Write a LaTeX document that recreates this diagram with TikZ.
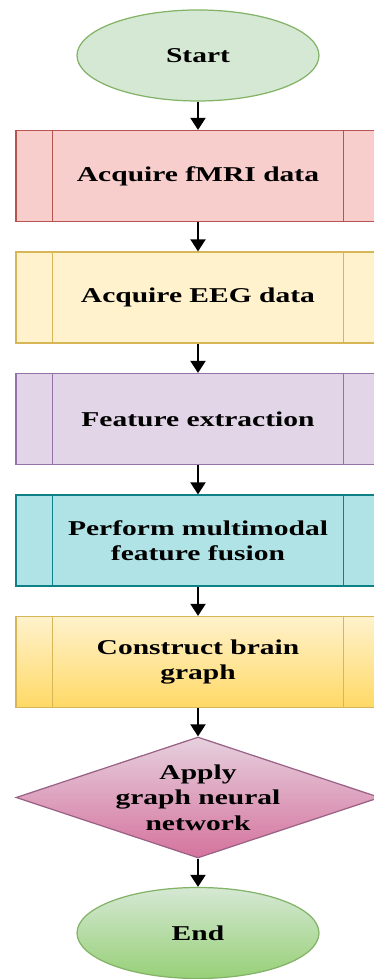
\documentclass[tikz,border=0pt]{standalone}
\usepackage{fontspec}
\newfontfamily\flowfont[FakeStretch=1.4]{Liberation Serif}
\usepackage{xcolor}
\usepackage{tikz}
\usetikzlibrary{positioning, arrows.meta, shapes.geometric}

\definecolor{termfill}{HTML}{D5E8D4}
\definecolor{termline}{HTML}{82B366}
\definecolor{termdark}{HTML}{97D077}
\definecolor{fmrifill}{HTML}{F8CECC}
\definecolor{fmriline}{HTML}{B85450}
\definecolor{eegfill}{HTML}{FFF2CC}
\definecolor{eegline}{HTML}{D6B656}
\definecolor{featfill}{HTML}{E1D5E7}
\definecolor{featline}{HTML}{9673A6}
\definecolor{fusionfill}{HTML}{B0E3E6}
\definecolor{fusionline}{HTML}{0E8088}
\definecolor{graphdark}{HTML}{FFD966}
\definecolor{gnntop}{HTML}{E6D0DE}
\definecolor{gnnbot}{HTML}{D5739D}
\definecolor{gnnline}{HTML}{996185}

\begin{document}
\begin{tikzpicture}[
  txt/.style={font=\flowfont\fontsize{12}{14.5}\selectfont\bfseries, align=center},
  term/.style={ellipse, txt, draw=termline, line width=0.7pt, minimum width=4.84cm, minimum height=1.82cm},
  proc/.style={rectangle, txt, line width=0.7pt, minimum width=7.28cm, minimum height=1.82cm},
  arr/.style={-{Triangle[width=0.3cm, length=0.24cm]}, line width=1.2pt}
]

\useasboundingbox (0, 0) rectangle (7.48, 19.58);

% --- Terminals and process steps ---
\node[term, fill=termfill] (start) at (3.96, 18.47) {Start};
\node[proc, draw=fmriline, fill=fmrifill] (fmri) at (3.96, 16.06) {Acquire fMRI data};
\node[proc, draw=eegline, fill=eegfill] (eeg) at (3.96, 13.63) {Acquire EEG data};
\node[proc, draw=featline, fill=featfill] (feat) at (3.96, 11.20) {Feature extraction};
\node[proc, draw=fusionline, fill=fusionfill] (fusion) at (3.96, 8.77) {Perform multimodal\\feature fusion};
\node[proc, draw=eegline, top color=eegfill, bottom color=graphdark] (graph) at (3.96, 6.34) {Construct brain\\graph};

% Decision
\node[diamond, draw=gnnline, line width=0.7pt, inner sep=0pt, minimum width=7.28cm, minimum height=2.42cm,
  top color=gnntop, bottom color=gnnbot,
  label={[txt]center:{Apply\\graph neural\\network}}] (gnn) at (3.96, 3.63) {};

\node[term, top color=termfill, bottom color=termdark] (end) at (3.96, 0.92) {End};

% Side bars of the process boxes
\foreach \n/\c in {fmri/fmriline, eeg/eegline, feat/featline, fusion/fusionline, graph/eegline} {
  \draw[\c, line width=0.7pt] ([xshift=0.74cm]\n.north west) -- ([xshift=0.74cm]\n.south west);
  \draw[\c, line width=0.7pt] ([xshift=-0.74cm]\n.north east) -- ([xshift=-0.74cm]\n.south east);
}

% --- Flow ---
\draw[arr] (start) -- (fmri);
\draw[arr] (fmri) -- (eeg);
\draw[arr] (eeg) -- (feat);
\draw[arr] (feat) -- (fusion);
\draw[arr] (fusion) -- (graph);
\draw[arr] (graph) -- (gnn);
\draw[arr] (gnn) -- (end);

\end{tikzpicture}
\end{document}
